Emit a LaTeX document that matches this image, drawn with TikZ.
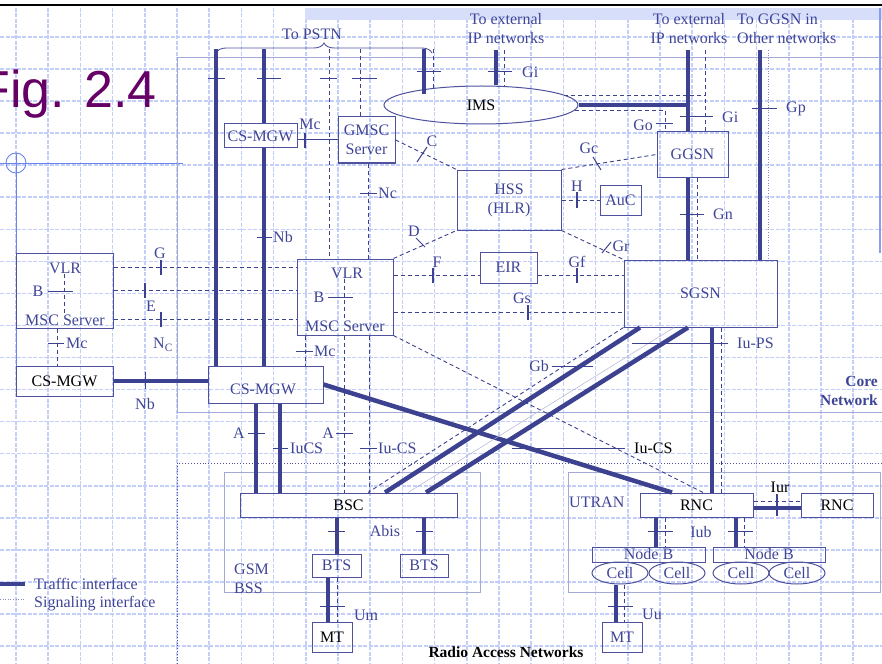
\documentclass[tikz,border=0pt]{standalone}
\usepackage{fontspec}
\setmainfont{Liberation Serif}
\newfontfamily\figfont{Liberation Sans}
\usetikzlibrary{decorations.pathreplacing,shapes.geometric}
\definecolor{ln}{HTML}{3C4190}
\definecolor{bx}{HTML}{4E529E}
\definecolor{tx}{HTML}{3F4596}
\definecolor{gridc}{HTML}{C3CEF9}
\definecolor{figc}{HTML}{660066}
\definecolor{regc}{HTML}{A4AAD6}
\definecolor{crossc}{HTML}{6A84EE}
\definecolor{bandc}{HTML}{D6DEFA}
\begin{document}
\begin{tikzpicture}[x=1pt,y=-1pt,
  every node/.style={font=\fontsize{16}{19}\selectfont, text=tx, inner sep=0pt},
  box/.style={draw=bx, line width=1pt, rectangle, align=center},
  ebox/.style={draw=bx, line width=1pt, ellipse, align=center},
  traffic/.style={draw=ln, line width=4.5pt},
  sig/.style={draw=ln, line width=0.9pt, dash pattern=on 4pt off 3pt},
  tick/.style={draw=ln, line width=1pt},
  btick/.style={draw=ln, line width=2pt},
  thin/.style={draw=ln, line width=1pt},
  gridl/.style={draw=gridc, line width=1.6pt, dash pattern=on 4pt off 1.5pt},
  bold/.style={font=\fontsize{15.5}{19}\selectfont\bfseries}
]
\path[use as bounding box] (0,0) rectangle (882,663);
% background grid and frame
\foreach \k in {0,...,27} \draw[gridl] ({16+32.2*\k},8) -- ({16+32.2*\k},663);
\foreach \k in {1,...,20} \draw[gridl] (0,{4.95+32.05*\k}) -- (882,{4.95+32.05*\k});
\fill[bandc] (305,8) rectangle (882,20);
\draw[black, line width=2.5pt] (0,5) -- (882,5);
\draw[crossc!80, line width=2pt] (880,8) -- (880,253);
\draw[crossc, line width=0.9pt] (16,163) circle (10pt);
\draw[crossc, line width=0.9pt] (0,163) -- (183,163);
\draw[crossc, line width=0.9pt] (16,153) -- (16,396);
% regions
\draw[regc, line width=0.8pt] (882,57) -- (177,57) -- (177,412) -- (882,412);
\draw[bx, dotted, line width=0.9pt] (882,463) -- (177,463) -- (177,663);
\draw[regc, line width=0.8pt] (224,472) rectangle (480,592);
\draw[regc, line width=0.8pt] (568,472) rectangle (880,592);
\node[text=figc, anchor=base east, font=\figfont\fontsize{52}{52}\selectfont] (fig) at (157,108) {Fig. 2.4};

% helper coordinates
\foreach \v in {57,64,216,256,264,280,305,328,329,337,344,360,368,369,385,408,424,426,433,496,504,616,624,640,656,665,672,674,688,697,703,705,712,721,736,744,760,768}
  \coordinate (X\v) at (\v,0);
\foreach \v in {267,275,290,312,319,501,508}
  \coordinate (Y\v) at (0,\v);

% nodes
\node[box, minimum width=73pt, minimum height=24pt] (cgwT) at (260.5,136) {CS-MGW};
\node[box, minimum width=57pt, minimum height=46pt] (gmsc) at (366.5,140) {GMSC\\Server};
\node[ebox, minimum width=194pt, minimum height=38pt, text=black] (ims) at (481,105) {IMS};
\node[box, minimum width=104pt, minimum height=60pt] (hss) at (509,200) {HSS\\(HLR)};
\node[box, minimum width=41pt, minimum height=30pt] (auc) at (620.5,200) {AuC};
\node[box, minimum width=71pt, minimum height=45pt] (ggsn) at (692.5,154.5) {GGSN};
\node[box, minimum width=57pt, minimum height=31pt] (eir) at (508.5,267.5) {EIR};
\node[box, minimum width=153pt, minimum height=67pt] (sgsn) at (700.5,293.5) {SGSN};
\node[box, minimum width=96pt, minimum height=76pt] (msc) at (345,297) {};
\node (mscv) at (347,273) {VLR};
\node (mscs) at (345,326) {MSC Server};
\node (mscb) at (319,297) {B};
\node[box, minimum width=97pt, minimum height=75pt] (mscL) at (64.5,290.5) {};
\node (mscLv) at (65,268) {VLR};
\node (mscLs) at (65,320) {MSC Server};
\node (mscLb) at (38,291) {B};
\node[box, minimum width=97pt, minimum height=30pt, text=black] (cgwL) at (64.5,381) {CS-MGW};
\node[box, minimum width=115pt, minimum height=37pt] (cgwC) at (265.5,384.5) {};
\node (cgwCt) at (263,389) {CS-MGW};
\node[box, minimum width=217pt, minimum height=24pt, text=black] (bsc) at (348.5,505) {BSC};
\node[box, minimum width=49pt, minimum height=23pt] (bts1) at (336.5,565.5) {BTS};
\node[box, minimum width=48pt, minimum height=23pt] (bts2) at (424,565.5) {BTS};
\node[box, minimum width=40pt, minimum height=30pt, text=black] (mt1) at (332,637) {MT};
\node[box, minimum width=113pt, minimum height=24pt, text=black] (rnc) at (696.5,505) {RNC};
\node[box, minimum width=72pt, minimum height=24pt, text=black] (rnc2) at (837,505) {RNC};
\node[box, minimum width=113pt, minimum height=15pt] (nb1) at (648.5,554.5) {Node B};
\node[box, minimum width=112pt, minimum height=15pt] (nb2) at (769,554.5) {Node B};
\node[ebox, minimum width=56pt, minimum height=22pt] (c1) at (620,573) {Cell};
\node[ebox, minimum width=56pt, minimum height=22pt] (c2) at (677,573) {Cell};
\node[ebox, minimum width=56pt, minimum height=22pt] (c3) at (741,573) {Cell};
\node[ebox, minimum width=56pt, minimum height=22pt] (c4) at (797,573) {Cell};
\node[box, minimum width=40pt, minimum height=30pt] (mt2) at (622,637) {MT};

% top free ends
\coordinate (t216) at (216,49);
\coordinate (t264) at (264,49);
\coordinate (t329) at (329,49);
\coordinate (t360) at (360,49);
\coordinate (t424) at (424,49);
\coordinate (t433) at (433,49);
\coordinate (i424) at (424,94);
\coordinate (i433) at (433,89);
\coordinate (t496) at (496,50);
\coordinate (t504) at (504,50);
\coordinate (t688) at (688,50);
\coordinate (t705) at (705,50);
\coordinate (t760) at (760,50);
\coordinate (t768) at (768,50);
\coordinate (ie1) at (564,95);
\coordinate (ie2) at (575,110);
\coordinate (k665) at (665,110);

% To PSTN
\draw[bx, line width=0.9pt, decorate, decoration={brace, amplitude=10pt}] (216,53) -- (432,53);
\node (pstn) at (312,34) {To PSTN};
\draw[traffic] (t216) -- (cgwC.north -| X216);
\draw[traffic] (t264) -- (cgwT.north -| X264);
\draw[traffic] (cgwT.south -| X264) -- (cgwC.north -| X264);
\draw[sig] (t329) -- (msc.north -| X329);
\draw[sig] (t360) -- (gmsc.north -| X360);
\draw[traffic] (t424) -- (i424);
\draw[sig] (t433) -- (i433);
\draw[tick] (208,79) -- (225,79);
\draw[tick] (257,79) -- (281,79);
\draw[tick] (320,79) -- (337,79);
\draw[tick] (352,79) -- (377,79);
\draw[tick] (417,72) -- (441,72);
\draw[tick] (257,237) -- (272,237);
\node[anchor=west] (lNb1) at (273,237) {Nb};

% Mc top
\draw[thin] (gmsc.west) -- (gmsc.west -| cgwT.east);
\draw[btick] (305,133) -- (305,148);
\node (lMc1) at (310,124) {Mc};
% Nc
\draw[sig] (gmsc.south -| X368) -- (msc.north -| X368);
\draw[tick] (360,193) -- (377,193);
\node[anchor=west] (lNc) at (378,193) {Nc};

% IMS external
\node[align=center] (ext1) at (506,29) {To external\\IP networks};
\node[align=center] (ext2) at (689,29) {To external\\IP networks};
\node[align=left, anchor=west] (ext3) at (737,29) {To GGSN in\\Other networks};
\draw[traffic] (t496) -- (ims.north -| X496);
\draw[sig] (t504) -- (ims.north -| X504);
\draw[tick] (488,72) -- (512,72);
\node[anchor=west] (lGi1) at (522,72) {Gi};

% IMS - GGSN
\draw[traffic] (t688) -- (ggsn.north -| X688);
\draw[sig] (t705) -- (ggsn.north -| X705);
\draw[traffic] (ims.east) -- (ims.east -| X688);
\draw[sig] (ie1) -- (ie1 -| X705);
\draw[sig] (ie2) -- (k665) -- (ggsn.north -| X665);
\draw[tick] (656,124) -- (673,124);
\node[anchor=east] (lGo) at (653,125) {Go};
\draw[tick] (680,117) -- (713,117);
\node[anchor=west] (lGi2) at (722,117) {Gi};

% GGSN - SGSN
\draw[traffic] (ggsn.south -| X688) -- (sgsn.north -| X688);
\draw[sig] (ggsn.south -| X697) -- (sgsn.north -| X697);
\draw[tick] (680,214) -- (704,214);
\node[anchor=west] (lGn) at (713,214) {Gn};

% Gp
\draw[traffic] (t760) -- (sgsn.north -| X760);
\draw[ln!60, line width=0.6pt, dotted] (t768) -- (sgsn.north -| X768);
\draw[tick] (752,109) -- (777,109);
\node[anchor=west] (lGp) at (786,109) {Gp};

% HSS signalling
\draw[sig] (gmsc.east) -- (hss.north west);
\draw[tick] (427,147) -- (417,162);
\node (lC) at (432,141) {C};
\draw[sig] (msc.north east) -- (hss.south west);
\draw[tick] (416,238) -- (425,247);
\node (lD) at (414,231) {D};
\draw[sig] (hss.north east) -- (ggsn.west);
\draw[tick] (593,157) -- (601,170);
\node (lGc) at (589,148) {Gc};
\draw[sig] (hss.east) -- (auc.west);
\draw[btick] (577,192) -- (577,208);
\node (lH) at (577,186) {H};
\draw[sig] (hss.south east) -- (sgsn.north west);
\draw[tick] (602,253) -- (611,242);
\node (lGr) at (621,246) {Gr};
\draw[sig] (msc.east |- Y275) -- (eir.west |- Y275);
\draw[btick] (433,268) -- (433,283);
\node (lF) at (437,262) {F};
\draw[sig] (eir.east |- Y275) -- (sgsn.west |- Y275);
\draw[btick] (577,268) -- (577,283);
\node (lGf) at (577,262) {Gf};
\draw[sig] (msc.east |- Y312) -- (sgsn.west |- Y312);
\draw[btick] (528,305) -- (528,320);
\node (lGs) at (522,298) {Gs};

% MSC internals
\draw[sig] (mscv.south -| X344) -- (mscs.north -| X344);
\draw[tick] (328,297) -- (353,297);
\draw[sig] (mscLv.south -| X64) -- (mscLs.north -| X64);
\draw[tick] (48,291) -- (73,291);

% left MSC links
\draw[sig] (mscL.east |- Y267) -- (msc.west |- Y267);
\draw[btick] (161,260) -- (161,275);
\node (lG) at (160,253) {G};
\draw[sig] (mscL.east |- Y290) -- (msc.west |- Y290);
\draw[btick] (145,283) -- (145,298);
\node (lE) at (151,306) {E};
\draw[sig] (mscL.east |- Y319) -- (msc.west |- Y319);
\draw[btick] (161,312) -- (161,327);
\node (lNC) at (163,345) {N\textsubscript{C}};
\draw[sig] (mscL.south -| X57) -- (cgwL.north -| X57);
\draw[tick] (48,343) -- (64,343);
\node[anchor=west] (lMc2) at (66,343) {Mc};
\draw[traffic] (cgwL.east) -- (cgwL.east -| cgwC.west);
\draw[tick] (145,372) -- (145,389);
\node (lNb2) at (145,404) {Nb};

% MSC down
\draw[sig] (msc.south -| X305) -- (cgwC.north -| X305);
\draw[tick] (296,351) -- (313,351);
\node[anchor=west] (lMc3) at (314,351) {Mc};
\draw[sig] (msc.south -| X344) -- (bsc.north -| X344);
\draw[sig] (msc.south -| X369) -- (bsc.north -| X369);
\draw[tick] (336,433) -- (353,433);
\node[anchor=east] (lA2) at (334,433) {A};
\draw[tick] (360,448) -- (377,448);
\node[anchor=west] (lIuCS2) at (378,448) {Iu-CS};

% CS-MGW down
\draw[traffic] (cgwC.south -| X256) -- (bsc.north -| X256);
\draw[traffic] (cgwC.south -| X280) -- (bsc.north -| X280);
\draw[tick] (248,433) -- (265,433);
\node[anchor=east] (lA1) at (245,433) {A};
\draw[tick] (273,448) -- (288,448);
\node[anchor=west] (lIuCS1) at (290,448) {IuCS};

% CS-MGW to RNC
\draw[traffic] (cgwC.east) -- (rnc.north -| X672);
\draw[thin] (512,448) -- (625,448);
\node[anchor=west, text=black] (lIuCS3) at (634,448) {Iu-CS};
\draw[sig] (msc.south east) -- (rnc.north -| X703);

% SGSN - BSC (Gb)
\draw[traffic] (sgsn.south -| X640) -- (bsc.north -| X385);
\draw[traffic] (sgsn.south -| X688) -- (bsc.north -| X426);
\draw[sig] (sgsn.south west) -- (bsc.north -| X368);
\draw[ln!40, line width=0.5pt] (sgsn.south -| X674) -- (bsc.north -| X408);
\draw[thin] (552,366) -- (593,366);
\node[anchor=east] (lGb) at (549,366) {Gb};

% SGSN - RNC
\draw[traffic] (sgsn.south -| X712) -- (rnc.north -| X712);
\draw[sig] (sgsn.south -| X721) -- (rnc.north -| X721);
\draw[thin] (632,343) -- (728,343);
\node[anchor=west] (lIuPS) at (737,343) {Iu-PS};

% BSS
\draw[traffic] (bsc.south -| X337) -- (bts1.north -| X337);
\draw[traffic] (bsc.south -| X424) -- (bts2.north -| X424);
\draw[tick] (328,531) -- (345,531);
\draw[tick] (416,531) -- (433,531);
\node (lAbis) at (385,531) {Abis};
\draw[traffic] (bts1.south -| X328) -- (mt1.north -| X328);
\draw[sig] (bts1.south -| X337) -- (mt1.north -| X337);
\draw[tick] (320,606) -- (345,606);
\node (lUm) at (366,615) {Um};
\node[align=left, anchor=west] (lGSM) at (234,578.5) {GSM\\BSS};

% UTRAN
\node[anchor=west] (lUTRAN) at (569,502) {UTRAN};
\draw[traffic] (rnc.south -| X656) -- (nb1.north -| X656);
\draw[sig] (rnc.south -| X665) -- (nb1.north -| X665);
\draw[traffic] (rnc.south -| X736) -- (nb2.north -| X736);
\draw[sig] (rnc.south -| X744) -- (nb2.north -| X744);
\draw[tick] (648,531) -- (673,531);
\draw[tick] (728,531) -- (753,531);
\node (lIub) at (701,532) {Iub};
\draw[traffic] (c1.south -| X616) -- (mt2.north -| X616);
\draw[sig] (c1.south -| X624) -- (mt2.north -| X624);
\draw[tick] (608,606) -- (633,606);
\node (lUu) at (652,614) {Uu};
\draw[traffic] (rnc.east |- Y508) -- (rnc2.west |- Y508);
\draw[sig] (rnc.east |- Y501) -- (rnc2.west |- Y501);
\draw[btick] (777,494) -- (777,516);
\node[text=black] (lIur) at (780,487) {Iur};

% region labels
\node[bold, align=right, anchor=east] (lcore) at (878,390.5) {Core\\Network};
\node[bold, text=black] (lran) at (506,652) {Radio Access Networks};

% legend
\draw[traffic, line width=4pt] (0,584) -- (25,584);
\draw[ln!60, dotted, line width=0.6pt] (0,599) -- (25,599);
\node[anchor=west] (lg1) at (34,584) {Traffic interface};
\node[anchor=west] (lg2) at (34,604) {Signaling interface};
\end{tikzpicture}
\end{document}
